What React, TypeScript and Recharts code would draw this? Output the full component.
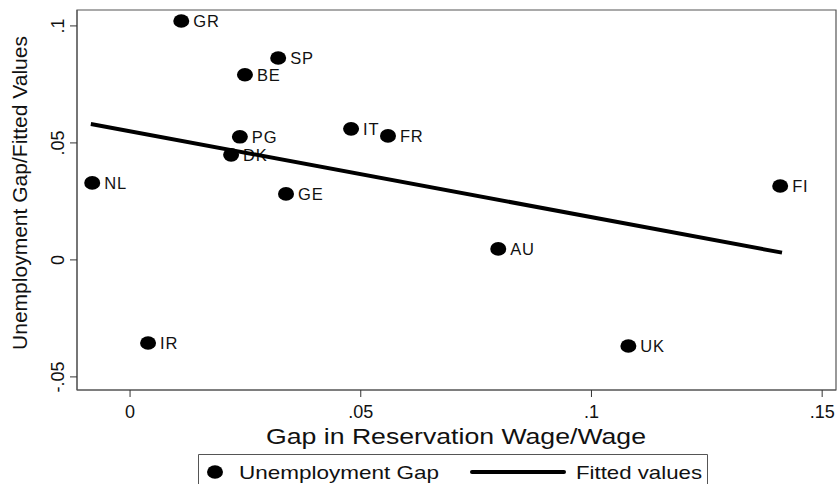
import { ScatterChart, Scatter, XAxis, YAxis, ReferenceArea } from 'recharts';

const countries = ['GR', 'SP', 'BE', 'PG', 'DK', 'NL', 'GE', 'IT', 'FR', 'FI', 'AU', 'UK', 'IR'];
const wageGap = [0.0111, 0.0321, 0.0249, 0.0238, 0.0219, -0.0082, 0.0338, 0.0479, 0.0559, 0.1409, 0.0798, 0.108, 0.0039];
const unempGap = [0.1021, 0.0863, 0.0791, 0.0526, 0.0449, 0.0329, 0.0282, 0.056, 0.053, 0.0316, 0.0047, -0.0368, -0.0355];

const fittedX = [-0.0085, 0.1413];
const fittedY = [0.0581, 0.0031];

const xTicks = [0, 0.05, 0.1, 0.15];
const yTicks = [-0.05, 0, 0.05, 0.1];
const xDomain: [number, number] = [-0.0115, 0.153];
const yDomain: [number, number] = [-0.0556, 0.1068];

const FONT = '"Liberation Sans", Arial, Helvetica, sans-serif';

const points = countries.map((name, i) => ({ name, x: wageGap[i], y: unempGap[i] }));
const fitted = fittedX.map((x, i) => ({ x, y: fittedY[i] }));

const fmt = (v: number) => (v === 0 ? '0' : String(v).replace('0.', '.'));

// eslint-disable-next-line @typescript-eslint/no-explicit-any
const PointShape = (props: any) => {
  const { cx, cy, payload } = props;
  return (
    <g>
      <ellipse cx={cx} cy={cy} rx={8} ry={6.8} fill="#000" />
      <text
        x={cx + 12}
        y={cy + 6}
        fontSize={16.5}
        letterSpacing={0.8}
        fontFamily={FONT}
        fill="#111"
      >
        {payload.name}
      </text>
    </g>
  );
};

// eslint-disable-next-line @typescript-eslint/no-explicit-any
const YTick = (props: any) => {
  const { x, y, payload } = props;
  const bx = x - 4;
  return (
    <text
      transform={`translate(${bx},${y}) rotate(-90)`}
      textAnchor="middle"
      fontSize={18}
      fontFamily={FONT}
      fill="#111"
    >
      {fmt(payload.value)}
    </text>
  );
};

export default function App() {
  return (
    <div style={{ position: 'absolute', left: 0, top: 0, width: 839, height: 484, background: '#fff' }}>
      <ScatterChart
        width={839}
        height={484}
        margin={{ top: 10, right: 3, bottom: 0, left: 0 }}
      >
        <XAxis
          type="number"
          dataKey="x"
          domain={xDomain}
          ticks={xTicks}
          allowDataOverflow
          tickFormatter={fmt}
          height={94}
          tickSize={7}
          tickMargin={8}
          axisLine={{ stroke: '#555' }}
          tickLine={{ stroke: '#333' }}
          tick={{ fontSize: 18, fill: '#111', fontFamily: FONT }}
          label={{
            content: () => (
              <text
                x={456}
                y={444}
                textAnchor="middle"
                fontSize={22}
                fontFamily={FONT}
                fill="#111"
                textLength={380}
                lengthAdjust="spacingAndGlyphs"
              >
                Gap in Reservation Wage/Wage
              </text>
            ),
          }}
        />
        <YAxis
          type="number"
          dataKey="y"
          domain={yDomain}
          ticks={yTicks}
          allowDataOverflow
          width={77}
          tickSize={7}
          axisLine={{ stroke: '#555' }}
          tickLine={{ stroke: '#333' }}
          tick={YTick}
          label={{
            content: () => (
              <text
                transform="translate(27,193) rotate(-90)"
                textAnchor="middle"
                fontSize={20}
                fontFamily={FONT}
                fill="#111"
                textLength={314}
                lengthAdjust="spacingAndGlyphs"
              >
                Unemployment Gap/Fitted Values
              </text>
            ),
          }}
        />
        <ReferenceArea
          x1={xDomain[0]}
          x2={xDomain[1]}
          y1={yDomain[0]}
          y2={yDomain[1]}
          fill="none"
          fillOpacity={0}
          stroke="#555"
          strokeWidth={1.2}
        />
        <Scatter
          name="Unemployment Gap"
          data={points}
          shape={PointShape}
          isAnimationActive={false}
        />
        <Scatter
          name="Fitted values"
          data={fitted}
          line={{ stroke: '#000', strokeWidth: 4 }}
          lineType="joint"
          shape={() => <g />}
          isAnimationActive={false}
        />
      </ScatterChart>

      <svg
        width={839}
        height={484}
        style={{ position: 'absolute', left: 0, top: 0, pointerEvents: 'none' }}
      >
        <path d="M198.5,490 V454.5 H707.5 V490" fill="none" stroke="#555" strokeWidth={1} />
        <ellipse cx={215} cy={472} rx={8} ry={6.8} fill="#000" />
        <text x={239} y={478.5} fontSize={18.5} fontFamily={FONT} fill="#111" textLength={200} lengthAdjust="spacingAndGlyphs">
          Unemployment Gap
        </text>
        <line x1={472} y1={472} x2={564} y2={472} stroke="#000" strokeWidth={4} strokeLinecap="round" />
        <text x={576} y={478.5} fontSize={18.5} fontFamily={FONT} fill="#111" textLength={126} lengthAdjust="spacingAndGlyphs">
          Fitted values
        </text>
      </svg>
    </div>
  );
}
